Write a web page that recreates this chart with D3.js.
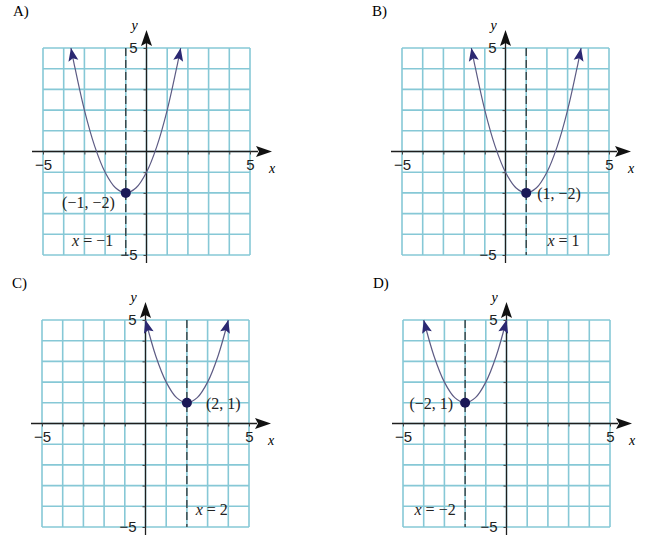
<!DOCTYPE html>
<html>
<head>
<meta charset="utf-8">
<script src="https://cdn.jsdelivr.net/npm/d3@7"></script>
<style>
  body { margin: 0; background: #fff; }
</style>
</head>
<body>
<script>
// ---- data ----
var panelNames  = ['A)', 'B)', 'C)', 'D)'];
var gridTicks   = [-5, -4, -3, -2, -1, 0, 1, 2, 3, 4, 5];
var tickLabels  = ['\u22125', '5'];
var vertexX     = [-1, 1, 2, -2];
var vertexY     = [-2, -2, 1, 1];
var vertexText  = ['(\u22121, \u22122)', '(1, \u22122)', '(2, 1)', '(\u22122, 1)'];
var axisText    = ['x = \u22121', 'x = 1', 'x = 2', 'x = \u22122'];

var curveA = [[-3.65,5],[-3.5,4.25],[-3,2],[-2.5,0.25],[-2,-1],[-1.5,-1.75],[-1,-2],
              [-0.5,-1.75],[0,-1],[0.5,0.25],[1,2],[1.5,4.25],[1.65,5]];
var curveB = [[-1.65,5],[-1.5,4.25],[-1,2],[-0.5,0.25],[0,-1],[0.5,-1.75],[1,-2],
              [1.5,-1.75],[2,-1],[2.5,0.25],[3,2],[3.5,4.25],[3.65,5]];
var curveC = [[0,5],[0.5,3.25],[1,2],[1.5,1.25],[2,1],[2.5,1.25],[3,2],[3.5,3.25],[4,5]];
var curveD = [[-4,5],[-3.5,3.25],[-3,2],[-2.5,1.25],[-2,1],[-1.5,1.25],[-1,2],[-0.5,3.25],[0,5]];
var curves = [curveA, curveB, curveC, curveD];

// ---- layout (not data) ----
var origins   = [[43, 48], [402, 48], [42, 320], [403, 320]];
var size      = 207;
var labelSide = ['belowleft', 'right', 'right', 'left'];
var notePos   = [[-2.6, -4.3], [2.8, -4.3], [3.2, -4.2], [-3.45, -4.2]];

var serif     = '"Liberation Serif", "Times New Roman", Times, serif';
var sans      = '"Liberation Sans", Arial, Helvetica, sans-serif';
var gridColor = '#86c8d6';
var axisColor = '#1e1e1e';

var svg = d3.select('body').append('svg')
            .attr('width', 650)
            .attr('height', 540)
            .attr('font-family', serif);

var defs = svg.append('defs');
defs.append('marker')
    .attr('id', 'curveArrow')
    .attr('markerUnits', 'userSpaceOnUse')
    .attr('viewBox', '-14 -6 15 12')
    .attr('markerWidth', 15).attr('markerHeight', 12)
    .attr('refX', 0).attr('refY', 0)
    .attr('orient', 'auto-start-reverse')
    .append('path')
    .attr('d', 'M0,0 L-13,-5 L-10.5,0 L-13,5 Z')
    .attr('fill', '#2b2872');

var x = d3.scaleLinear().domain([-5, 5]).range([0, size]);
var y = d3.scaleLinear().domain([-5, 5]).range([size, 0]);

panelNames.forEach(function(name, i){
  drawPanel(i);
});

function drawPanel(i){
  var g = svg.append('g')
             .attr('transform', 'translate(' + origins[i][0] + ',' + origins[i][1] + ')');

  // panel letter
  g.append('text')
   .attr('x', -30).attr('y', -32)
   .attr('font-family', serif)
   .attr('font-size', 15)
   .text(panelNames[i]);

  // grid
  g.selectAll('line.v').data(gridTicks).enter().append('line')
   .attr('x1', function(d){ return x(d); }).attr('x2', function(d){ return x(d); })
   .attr('y1', 0).attr('y2', size)
   .attr('stroke', gridColor).attr('stroke-width', 1.6);
  g.selectAll('line.h').data(gridTicks).enter().append('line')
   .attr('y1', function(d){ return y(d); }).attr('y2', function(d){ return y(d); })
   .attr('x1', 0).attr('x2', size)
   .attr('stroke', gridColor).attr('stroke-width', 1.6);

  // axis lines
  g.append('line')
   .attr('x1', x(-5) - 11).attr('x2', x(5) + 8)
   .attr('y1', y(0)).attr('y2', y(0))
   .attr('stroke', axisColor).attr('stroke-width', 1.3);
  g.append('line')
   .attr('x1', x(0)).attr('x2', x(0))
   .attr('y1', y(-5) + 8).attr('y2', y(5) - 6)
   .attr('stroke', axisColor).attr('stroke-width', 1.3);

  // axis arrowheads
  var xt = x(5) + 22, yt = y(0);
  g.append('path')
   .attr('d', 'M' + xt + ',' + yt + ' L' + (xt - 16) + ',' + (yt - 5.5) +
              ' L' + (xt - 13) + ',' + yt + ' L' + (xt - 16) + ',' + (yt + 5.5) + ' Z')
   .attr('fill', '#111');
  var ax = x(0), at = y(5) - 18;
  g.append('path')
   .attr('d', 'M' + ax + ',' + at + ' L' + (ax - 5.5) + ',' + (at + 16) +
              ' L' + ax + ',' + (at + 13) + ' L' + (ax + 5.5) + ',' + (at + 16) + ' Z')
   .attr('fill', '#111');

  // ticks and tick labels
  var fmt = function(d){ return d === -5 ? tickLabels[0] : d === 5 ? tickLabels[1] : ''; };
  var xAxis = d3.axisBottom(x).tickValues(gridTicks).tickSize(3).tickPadding(5).tickFormat(fmt);
  var gx = g.append('g').attr('transform', 'translate(0,' + y(0) + ')').call(xAxis);

  var yAxis = d3.axisLeft(y).tickValues(gridTicks).tickSize(3).tickPadding(6).tickFormat(fmt);
  var gy = g.append('g').attr('transform', 'translate(' + x(0) + ',0)').call(yAxis);

  [gx, gy].forEach(function(a){
    a.attr('font-family', sans).attr('font-size', 15);
    a.select('.domain').remove();
    a.selectAll('line').attr('stroke', '#444');
    a.selectAll('text').attr('fill', '#222');
    a.selectAll('.tick').filter(function(d){ return d === 0; }).remove();
  });

  // axis names
  g.append('text')
   .attr('x', x(5) + 19).attr('y', y(0) + 21)
   .attr('font-style', 'italic').attr('font-size', 14)
   .text('x');
  g.append('text')
   .attr('x', x(0) - 15).attr('y', y(5) - 18)
   .attr('font-style', 'italic').attr('font-size', 14)
   .text('y');

  // axis of symmetry
  g.append('line')
   .attr('x1', x(vertexX[i])).attr('x2', x(vertexX[i]))
   .attr('y1', 0).attr('y2', size)
   .attr('stroke', '#2a2a2a').attr('stroke-width', 1.2)
   .attr('stroke-dasharray', '8,4');

  // parabola
  var line = d3.line()
               .x(function(d){ return x(d[0]); })
               .y(function(d){ return y(d[1]); })
               .curve(d3.curveCatmullRom);
  g.append('path')
   .attr('d', line(curves[i]))
   .attr('fill', 'none')
   .attr('stroke', '#5d5b84')
   .attr('stroke-width', 1.2)
   .attr('marker-start', 'url(#curveArrow)')
   .attr('marker-end', 'url(#curveArrow)');

  // vertex
  var vx = x(vertexX[i]), vy = y(vertexY[i]);
  g.append('circle')
   .attr('cx', vx).attr('cy', vy).attr('r', 5)
   .attr('fill', '#1b1857');

  var lbl = g.append('text')
             .attr('font-size', 16)
             .attr('fill', '#222')
             .text(vertexText[i]);
  if (labelSide[i] === 'belowleft') {
    lbl.attr('x', vx - 11).attr('y', vy + 15).attr('text-anchor', 'end');
  } else if (labelSide[i] === 'right') {
    lbl.attr('x', vx + (vertexY[i] > 0 ? 19 : 11)).attr('y', vy + 6).attr('text-anchor', 'start');
  } else {
    lbl.attr('x', vx - 12).attr('y', vy + 6).attr('text-anchor', 'end');
  }

  // x = h note
  var note = g.append('text')
              .attr('x', x(notePos[i][0])).attr('y', y(notePos[i][1]) + 5)
              .attr('text-anchor', 'middle')
              .attr('font-size', 16)
              .attr('fill', '#222');
  var parts = axisText[i].split(' ');
  note.append('tspan').attr('font-style', 'italic').text(parts[0]);
  note.append('tspan').text(' ' + parts.slice(1).join(' '));
}
</script>
</body>
</html>
